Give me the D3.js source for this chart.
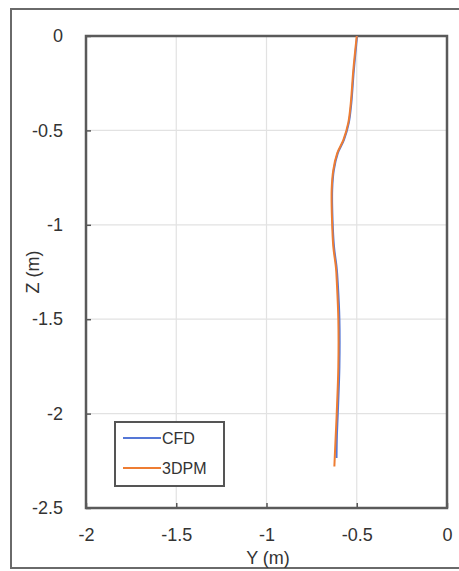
<!DOCTYPE html>
<html><head><meta charset="utf-8">
<script src="https://cdn.jsdelivr.net/npm/d3@7"></script>
<style>body{margin:0;background:#fff;} svg{display:block;}</style>
</head><body>
<script>
const xTicks = [-2, -1.5, -1, -0.5, 0];
const yTicks = [0, -0.5, -1, -1.5, -2, -2.5];
const seriesNames = ["CFD", "3DPM"];
const seriesColors = ["#5577d6", "#ee7d33"];
const cfdZ = [0, -0.18, -0.355, -0.46, -0.55, -0.62, -0.71, -0.815, -0.975, -1.115, -1.23, -1.31, -1.50, -1.75, -2.0, -2.12, -2.235];
const cfdY = [-0.498, -0.516, -0.530, -0.544, -0.571, -0.605, -0.627, -0.636, -0.634, -0.626, -0.611, -0.605, -0.596, -0.596, -0.605, -0.610, -0.612];
const dpmZ = [0, -0.18, -0.355, -0.46, -0.55, -0.62, -0.71, -0.815, -0.975, -1.115, -1.23, -1.31, -1.50, -1.75, -2.0, -2.19, -2.28];
const dpmY = [-0.500, -0.519, -0.533, -0.547, -0.574, -0.608, -0.630, -0.639, -0.637, -0.630, -0.615, -0.610, -0.602, -0.602, -0.611, -0.620, -0.624];

const W = 459, H = 571;
const svg = d3.select("body").append("svg").attr("width", W).attr("height", H)
  .style("font-family", "'Liberation Sans', Arial, sans-serif");

// outer frame
svg.append("rect").attr("x", 11).attr("y", 9).attr("width", W + 10).attr("height", 559)
  .attr("fill", "#fff").attr("stroke", "#6a6a6a").attr("stroke-width", 2);

const L = 86, R = 447, T = 36, B = 508;
const x = d3.scaleLinear().domain([-2, 0]).range([L, R]);
const y = d3.scaleLinear().domain([0, -2.5]).range([T, B]);

// grid
svg.append("g").selectAll("line").data(xTicks.slice(1, -1)).join("line")
  .attr("x1", d => x(d)).attr("x2", d => x(d)).attr("y1", T).attr("y2", B)
  .attr("stroke", "#e2e2e2").attr("stroke-width", 1.2);
svg.append("g").selectAll("line").data(yTicks.slice(1, -1)).join("line")
  .attr("y1", d => y(d)).attr("y2", d => y(d)).attr("x1", L).attr("x2", R)
  .attr("stroke", "#e2e2e2").attr("stroke-width", 1.2);

// axes with inward ticks
const xAxis = d3.axisBottom(x).tickValues(xTicks).tickSize(-5).tickPadding(20).tickFormat(d => d3.format("")(d).replace("−", "-"));
const yAxis = d3.axisLeft(y).tickValues(yTicks).tickSize(-5).tickPadding(23).tickFormat(d => d3.format("")(d).replace("−", "-"));
const gx = svg.append("g").attr("transform", `translate(0,${B})`).call(xAxis);
const gy = svg.append("g").attr("transform", `translate(${L},0)`).call(yAxis);
[gx, gy].forEach(g => {
  g.select(".domain").remove();
  g.selectAll(".tick line").attr("stroke", "#555").attr("stroke-width", 1.5);
  g.selectAll(".tick text").attr("fill", "#333").style("font-size", "18px");
});
gx.selectAll(".tick text").attr("dy", "0.71em");

// box
svg.append("rect").attr("x", L).attr("y", T).attr("width", R - L).attr("height", B - T)
  .attr("fill", "none").attr("stroke", "#5a5a5a").attr("stroke-width", 2.5);

// lines
const line = d3.line().x(d => x(d[1])).y(d => y(d[0])).curve(d3.curveCatmullRom);
svg.append("path").datum(cfdZ.map((z, i) => [z, cfdY[i]])).attr("d", line)
  .attr("fill", "none").attr("stroke", seriesColors[0]).attr("stroke-width", 2);
svg.append("path").datum(dpmZ.map((z, i) => [z, dpmY[i]])).attr("d", line)
  .attr("fill", "none").attr("stroke", seriesColors[1]).attr("stroke-width", 2);

// axis titles
svg.append("text").attr("x", 268).attr("y", 564).attr("text-anchor", "middle")
  .attr("fill", "#333").style("font-size", "18px").text("Y (m)");
svg.append("text").attr("transform", "translate(39,272) rotate(-90)").attr("text-anchor", "middle")
  .attr("fill", "#333").style("font-size", "18px").text("Z (m)");

// legend
const lg = svg.append("g");
lg.append("rect").attr("x", 115).attr("y", 422).attr("width", 109).attr("height", 64)
  .attr("fill", "#fff").attr("stroke", "#555").attr("stroke-width", 2);
seriesNames.forEach((n, i) => {
  const yy = 438 + i * 30;
  lg.append("line").attr("x1", 123).attr("x2", 161).attr("y1", yy).attr("y2", yy)
    .attr("stroke", seriesColors[i]).attr("stroke-width", 2);
  lg.append("text").attr("x", 162).attr("y", yy).attr("dy", "0.35em")
    .attr("fill", "#333").style("font-size", "16px").text(n);
});
</script>
</body></html>
